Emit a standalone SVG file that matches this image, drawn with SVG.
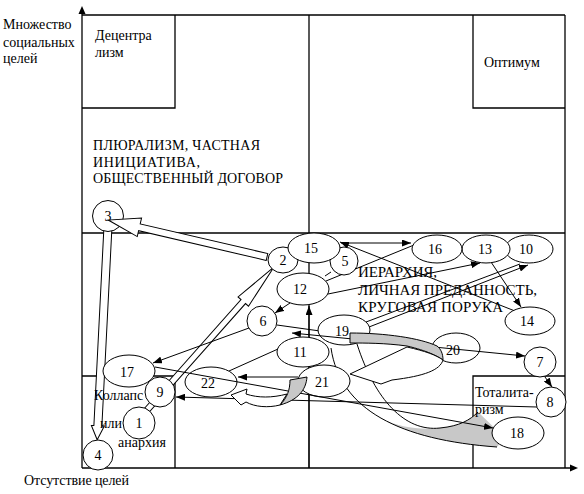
<svg xmlns="http://www.w3.org/2000/svg" width="584" height="494" viewBox="0 0 584 494">
<defs>
<marker id="ah" markerWidth="9" markerHeight="7" refX="9" refY="3.5" orient="auto-start-reverse" markerUnits="userSpaceOnUse">
<path d="M0,0 L9,3.5 L0,7 Z" fill="#000"/>
</marker>
<style>
.fr{stroke:#000;stroke-width:1.3;fill:none}
.ln{stroke:#000;stroke-width:1;fill:none}
.ar{stroke:#000;stroke-width:1;fill:none;marker-end:url(#ah)}
.nd ellipse{fill:#fff;stroke:#000;stroke-width:1}
.nd text{text-anchor:middle;fill:#000}
.ba{fill:#fff;stroke:#000;stroke-width:1}
.gr{fill:#c8c8c8;stroke:#000;stroke-width:1}
</style>
</defs>
<rect width="584" height="494" fill="#fff"/>
<g id="frame">
<g class="fr">
<line x1="82" y1="468" x2="82" y2="12"/>
<line x1="82" y1="468" x2="571" y2="468"/>
<line x1="82" y1="15" x2="565" y2="15"/>
<line x1="565" y1="15" x2="565" y2="468"/>
<line x1="309" y1="15" x2="309" y2="468"/>
<line x1="82" y1="233" x2="565" y2="233"/>
<polyline points="82,108 175,108 175,15"/>
<polyline points="473,15 473,108 565,108"/>
<polyline points="82,376 175,376 175,468"/>
<polyline points="473,468 473,376 565,376"/>
</g>
<polygon points="82,6 78.5,14 85.5,14" fill="#000"/>
<polygon points="578,468 570,464.5 570,471.5" fill="#000"/>
</g>
<g id="connectors">
<polygon class="ba" transform="translate(108,226) rotate(92.9)" points="0,-4 200,-4 200,-6.5 214,0 200,6.5 200,4 0,4"/>
<polygon class="ba" transform="translate(147,410) rotate(-48.4)" points="0,-3 145,-3 145,-7 191,0 145,7 145,3 0,3"/>
<path class="ar" d="M341,243 L411,243"/>
<path class="ar" d="M515,311 L340,242"/>
<path class="ln" d="M326,281 L414,245"/>
<path class="ar" d="M328,294 L480,263"/>
<path class="ln" d="M366,322 L520,264"/>
<path class="ar" d="M369,327 L528,265"/>
<path class="ar" d="M491,262 L521,307"/>
<path class="ar" d="M290,303 L275,313"/>
<path class="ln" d="M277,325 L320,331"/>
<path class="ar" d="M249,328 L153,363"/>
<path class="ln" d="M278,349 L229,371"/>
<path class="ar" d="M298,377 L238,377"/>
<path class="ar" d="M537,407 L176,397"/>
<path class="ar" d="M545,377 L552,387"/>
<path class="ar" d="M309,468 L309,306"/>
<path class="ln" d="M325,276 L331,272"/>
<path d="M381,418 C400,428 420,430 440,428 C460,426 470,420 478,412 L505,438 L497,447 C448.5,443.5 409.25,434.25 381,418 Z" fill="#c8c8c8" stroke="none"/>
<path class="ln" d="M331,348 C340,410 400,440 497,447"/>
<path class="ln" d="M357,344 C375,400 405,432 440,428 C460,426 470,420 478,412"/>
</g>
<g id="labels" fill="#000">
<text font-family="Liberation Serif, serif" font-size="14" x="3" y="29">Множество</text>
<text font-family="Liberation Serif, serif" font-size="14" x="3" y="47">социальных</text>
<text font-family="Liberation Serif, serif" font-size="14" x="3" y="63">целей</text>
<text font-family="Liberation Serif, serif" font-size="14" x="95" y="40">Децентра</text>
<text font-family="Liberation Serif, serif" font-size="14" x="95" y="57">лизм</text>
<text font-family="Liberation Serif, serif" font-size="14" x="484" y="67">Оптимум</text>
<text font-family="Liberation Serif, serif" font-size="14" x="93" y="150" textLength="167">ПЛЮРАЛИЗМ, ЧАСТНАЯ</text>
<text font-family="Liberation Serif, serif" font-size="14" x="93" y="167" textLength="107">ИНИЦИАТИВА,</text>
<text font-family="Liberation Serif, serif" font-size="14" x="93" y="183" textLength="190">ОБЩЕСТВЕННЫЙ ДОГОВОР</text>
<text font-family="Liberation Serif, serif" font-size="15" x="358" y="277" textLength="79">ИЕРАРХИЯ,</text>
<text font-family="Liberation Serif, serif" font-size="15" x="358" y="295" textLength="179">ЛИЧНАЯ ПРЕДАННОСТЬ,</text>
<text font-family="Liberation Serif, serif" font-size="15" x="358" y="312" textLength="145">КРУГОВАЯ ПОРУКА</text>
<text font-family="Liberation Serif, serif" font-size="14" x="94" y="400">Коллапс</text>
<text font-family="Liberation Serif, serif" font-size="14" x="100" y="428">или</text>
<text font-family="Liberation Serif, serif" font-size="14" x="118" y="447">анархия</text>
<text font-family="Liberation Serif, serif" font-size="14" x="475" y="397">Тоталита-</text>
<text font-family="Liberation Serif, serif" font-size="14" x="475" y="414">ризм</text>
<text font-family="Liberation Serif, serif" font-size="14" x="24" y="485" textLength="105">Отсутствие целей</text>
</g>
<g id="nodes" font-family="Liberation Serif, serif" font-size="14">
<g id="n10" class="nd"><ellipse cx="529" cy="249" rx="24" ry="14"/><text font-family="Liberation Serif, serif" font-size="14" x="526" y="254">10</text></g>
<g id="n13" class="nd"><ellipse cx="486" cy="249" rx="24" ry="14"/><text font-family="Liberation Serif, serif" font-size="14" x="485" y="254">13</text></g>
<g id="n16" class="nd"><ellipse cx="437" cy="249" rx="25" ry="14"/><text font-family="Liberation Serif, serif" font-size="14" x="435" y="254">16</text></g>
<g id="n2" class="nd"><ellipse cx="283" cy="260" rx="15" ry="13"/><text font-family="Liberation Serif, serif" font-size="14" x="283" y="265">2</text></g>
<g id="n5" class="nd"><ellipse cx="344" cy="261" rx="14" ry="14"/><text font-family="Liberation Serif, serif" font-size="14" x="345" y="266">5</text></g>
<g id="n15" class="nd"><ellipse cx="314" cy="248" rx="26" ry="15"/><text font-family="Liberation Serif, serif" font-size="14" x="311" y="253">15</text></g>
<g id="n12" class="nd"><ellipse cx="303" cy="289" rx="26" ry="16"/><text font-family="Liberation Serif, serif" font-size="14" x="300" y="294">12</text></g>
<g id="n6" class="nd"><ellipse cx="262" cy="321" rx="15" ry="15"/><text font-family="Liberation Serif, serif" font-size="14" x="263" y="326">6</text></g>
<g id="n11" class="nd"><ellipse cx="303" cy="352" rx="26" ry="15"/><text font-family="Liberation Serif, serif" font-size="14" x="300" y="357">11</text></g>
<g id="n19" class="nd"><ellipse cx="344" cy="330" rx="26" ry="15"/><text font-family="Liberation Serif, serif" font-size="14" x="342" y="336">19</text></g>
<g id="n21" class="nd"><ellipse cx="324" cy="381" rx="26" ry="16"/><text font-family="Liberation Serif, serif" font-size="14" x="322" y="387">21</text></g>
<g id="n22" class="nd"><ellipse cx="211" cy="382" rx="26" ry="15"/><text font-family="Liberation Serif, serif" font-size="14" x="208" y="388">22</text></g>
<g id="n17" class="nd"><ellipse cx="129" cy="371" rx="26" ry="16"/><text font-family="Liberation Serif, serif" font-size="14" x="127" y="377">17</text></g>
<g id="n9" class="nd"><ellipse cx="160" cy="392" rx="15" ry="15"/><text font-family="Liberation Serif, serif" font-size="14" x="160" y="397">9</text></g>
<g id="n1" class="nd"><ellipse cx="139" cy="423" rx="16" ry="16"/><text font-family="Liberation Serif, serif" font-size="14" x="139" y="428">1</text></g>
<g id="n3" class="nd"><ellipse cx="108" cy="216" rx="15.5" ry="15.5"/><text font-family="Liberation Serif, serif" font-size="14" x="108" y="221">3</text></g>
<g id="n4" class="nd"><ellipse cx="98" cy="455" rx="15" ry="15"/><text font-family="Liberation Serif, serif" font-size="14" x="98" y="460">4</text></g>
<g id="n7" class="nd"><ellipse cx="540" cy="362" rx="16" ry="15"/><text font-family="Liberation Serif, serif" font-size="14" x="540" y="367">7</text></g>
<g id="n8" class="nd"><ellipse cx="551" cy="402" rx="15" ry="15"/><text font-family="Liberation Serif, serif" font-size="14" x="550" y="407">8</text></g>
<g id="n14" class="nd"><ellipse cx="530" cy="321" rx="25" ry="14"/><text font-family="Liberation Serif, serif" font-size="14" x="527" y="326">14</text></g>
<g id="n18" class="nd"><ellipse cx="518" cy="433" rx="26" ry="16"/><text font-family="Liberation Serif, serif" font-size="14" x="517" y="438">18</text></g>
<g id="n20" class="nd"><ellipse cx="456" cy="348" rx="24" ry="15"/><text font-family="Liberation Serif, serif" font-size="14" x="453" y="355">20</text></g>
</g>
<g id="connectors-top">
<polygon class="ba" transform="translate(267,257) rotate(193.1)" points="0,-3.5 131,-3.5 131,-9.5 163,0 131,9.5 131,3.5 0,3.5"/>
<path class="ar" d="M155,367 L493,428"/>
<path class="ln" d="M292,333 L525,356" marker-start="url(#ah)" marker-end="url(#ah)"/>
<path class="gr" d="M350,333 C385,333 420,338 437,346 C441,349 443,354 443,360 C437,356 428,351 407,346 C385,343 365,343 350,343 Z"/>
<path class="ba" d="M443,360 C440,370 425,376 392,380 L381,384 L350,374 L407,347 C425,351 436,355 443,360 Z"/>
<path class="gr" d="M290,380 L307,377 C306,390 298,400 280,405 C287,398 290,390 290,380 Z"/>
<path class="ba" d="M280,405 C268,408 255,407 246,402 L241,405 L231,395 L247,389 L246,394 C258,398 272,398 287,394 Z"/>
</g>
</svg>
